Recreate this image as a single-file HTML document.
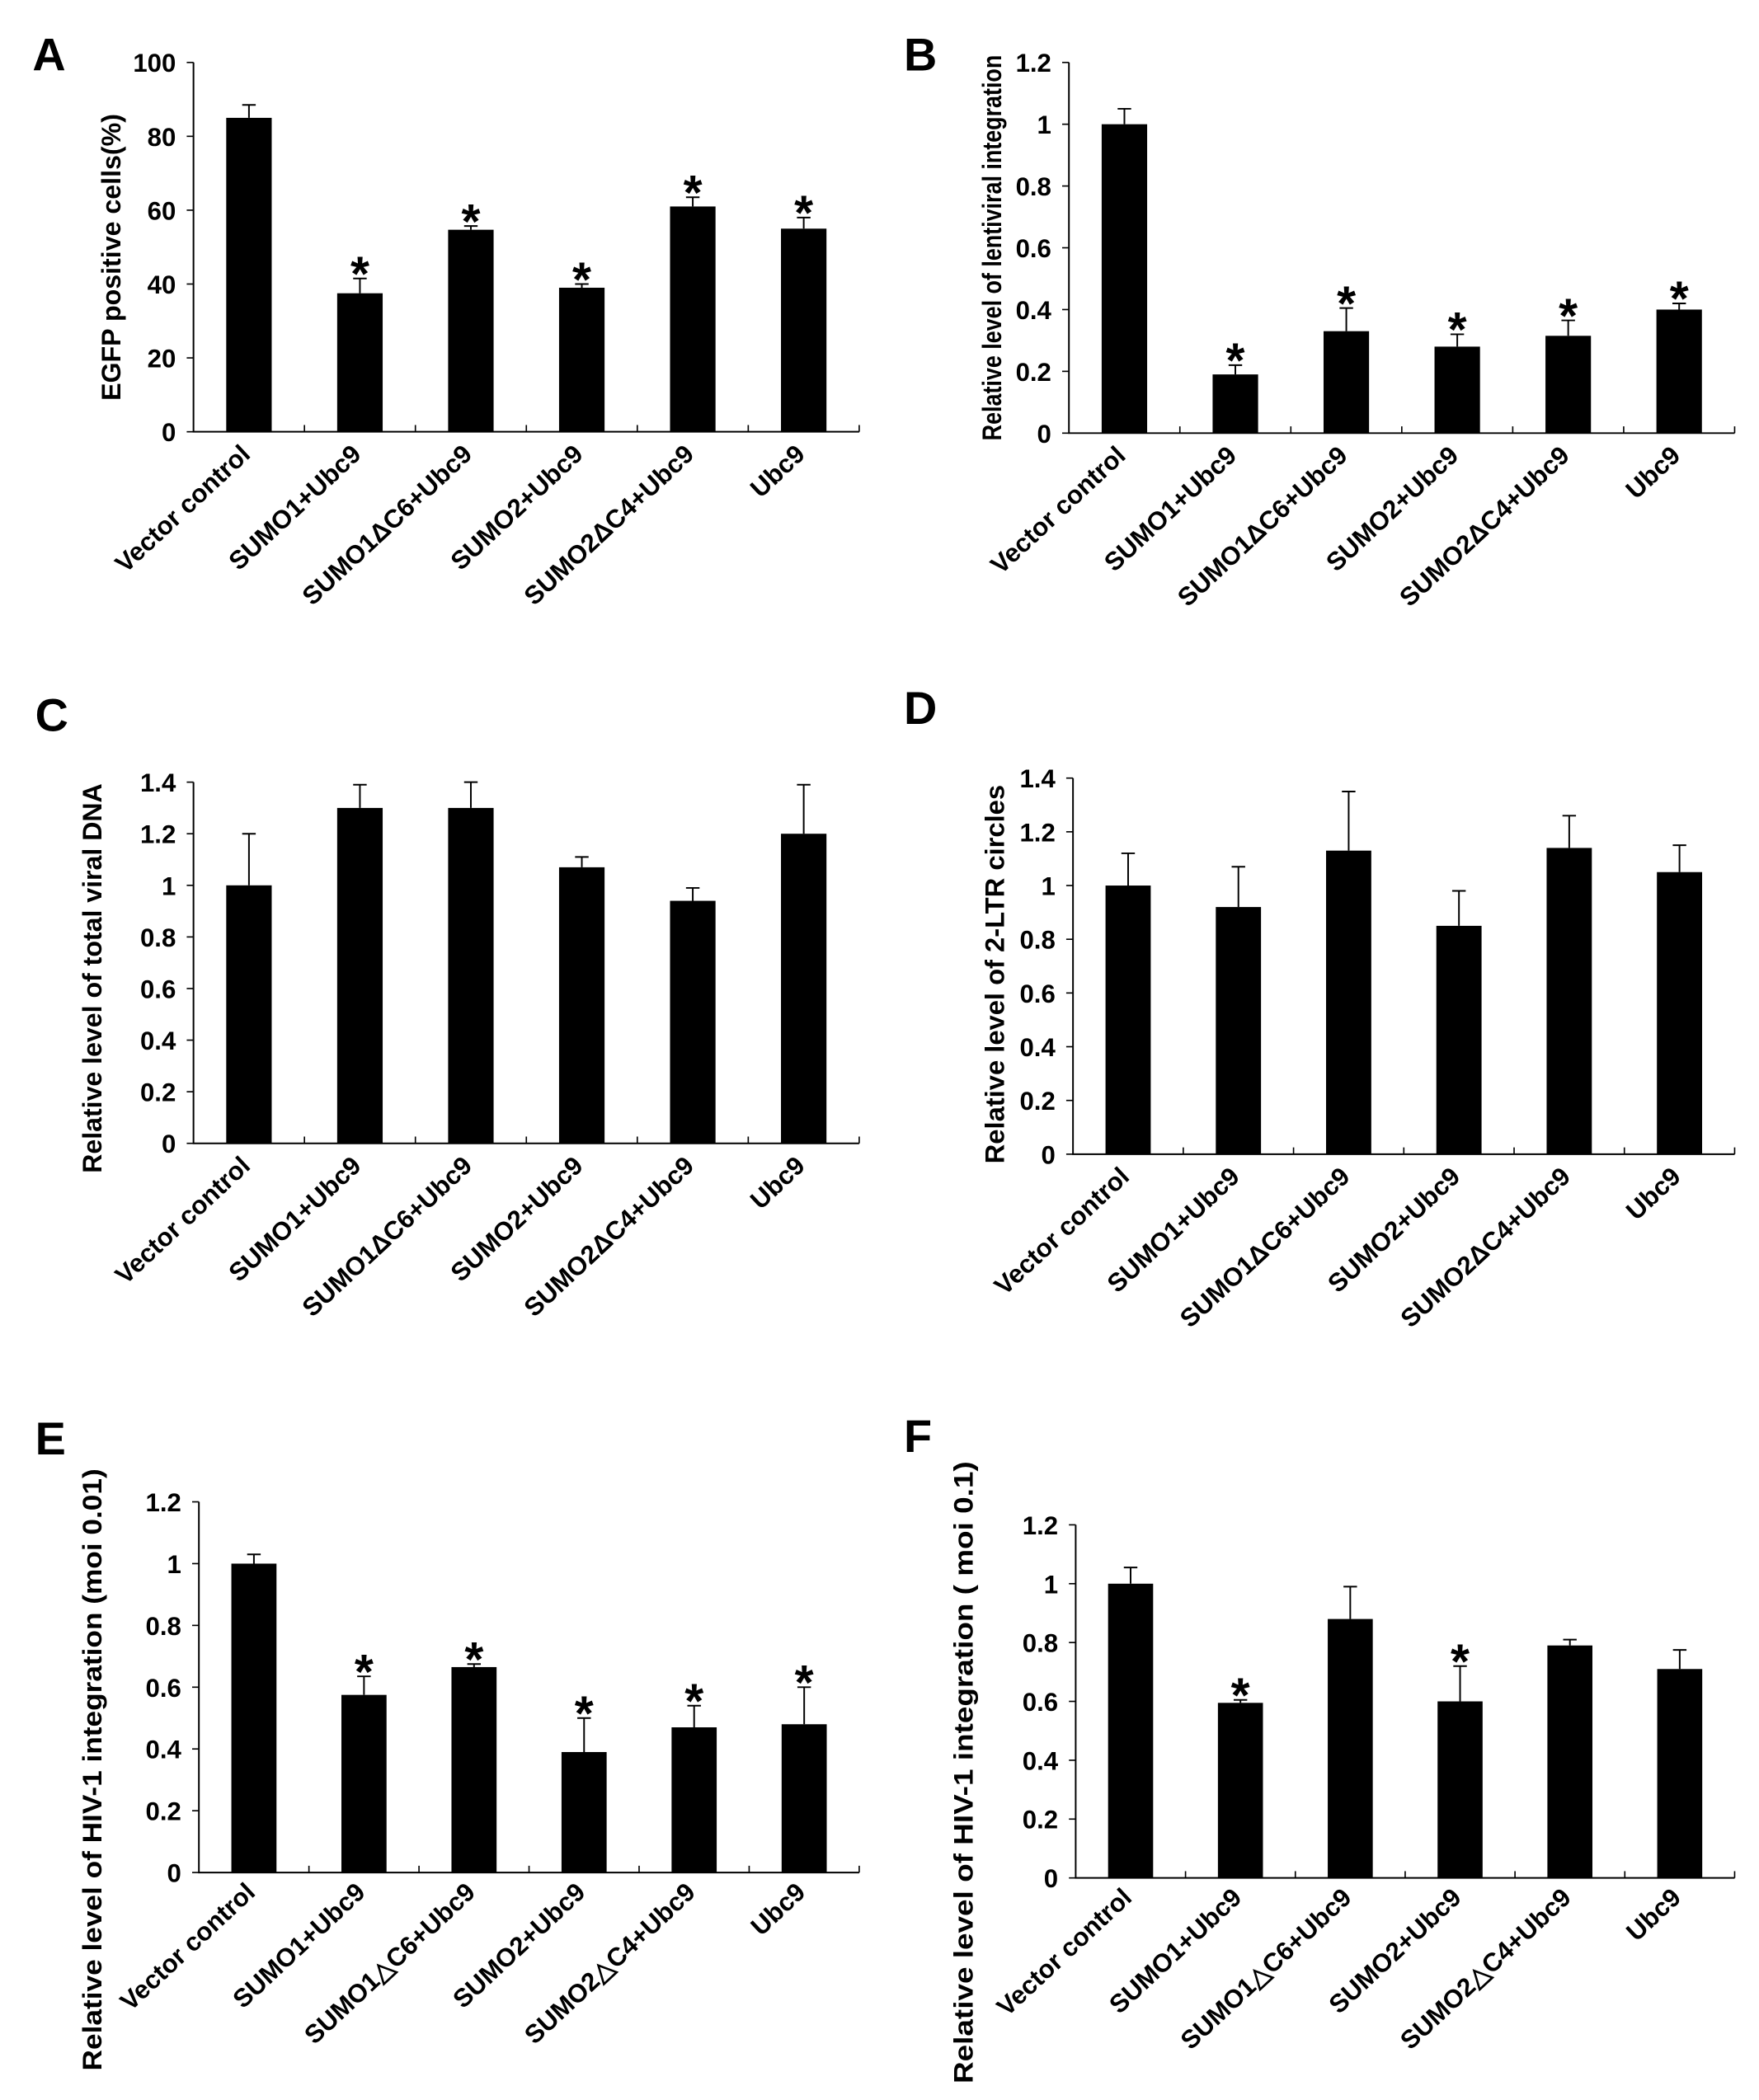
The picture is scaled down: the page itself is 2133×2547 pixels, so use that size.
<!DOCTYPE html>
<html><head><meta charset="utf-8"><style>
html,body{margin:0;padding:0;background:#fff;}
svg{display:block;}
text{font-family:"Liberation Sans",Arial,sans-serif;font-weight:bold;fill:#000;}
</style></head><body>
<svg id="fig" width="2133" height="2547" viewBox="0 0 1300 1552" xmlns="http://www.w3.org/2000/svg"></svg>
<script>
const categories = ["Vector control","SUMO1+Ubc9","SUMO1ΔC6+Ubc9","SUMO2+Ubc9","SUMO2ΔC4+Ubc9","Ubc9"];
const categoriesEF = ["Vector control","SUMO1+Ubc9","SUMO1△C6+Ubc9","SUMO2+Ubc9","SUMO2△C4+Ubc9","Ubc9"];
const valuesA = [85,37.5,54.7,39,61,55];
const errA = [3.5,4,1,1,2.5,3];
const starsA = [0,1,1,1,1,1];
const ticksA = [0,20,40,60,80,100];
const valuesB = [1,0.19,0.33,0.28,0.315,0.40];
const errB = [0.05,0.03,0.075,0.04,0.05,0.02];
const starsB = [0,1,1,1,1,1];
const ticksB = [0,0.2,0.4,0.6,0.8,1,1.2];
const valuesC = [1,1.3,1.3,1.07,0.94,1.2];
const errC = [0.2,0.09,0.1,0.04,0.05,0.19];
const starsC = [0,0,0,0,0,0];
const ticksC = [0,0.2,0.4,0.6,0.8,1,1.2,1.4];
const valuesD = [1,0.92,1.13,0.85,1.14,1.05];
const errD = [0.12,0.15,0.22,0.13,0.12,0.1];
const starsD = [0,0,0,0,0,0];
const ticksD = [0,0.2,0.4,0.6,0.8,1,1.2,1.4];
const valuesE = [1,0.575,0.665,0.39,0.47,0.48];
const errE = [0.03,0.06,0.01,0.11,0.07,0.12];
const starsE = [0,1,1,1,1,1];
const ticksE = [0,0.2,0.4,0.6,0.8,1,1.2];
const valuesF = [1,0.595,0.88,0.60,0.79,0.71];
const errF = [0.055,0.01,0.11,0.12,0.02,0.065];
const starsF = [0,1,0,1,0,0];
const ticksF = [0,0.2,0.4,0.6,0.8,1,1.2];

const NS="http://www.w3.org/2000/svg";
const svg=document.getElementById('fig');
function el(tag,attrs,parent){const e=document.createElementNS(NS,tag);for(const k in attrs)e.setAttribute(k,attrs[k]);(parent||svg).appendChild(e);return e;}

function panel(p){
  const g=el('g',{});
  
  
  const lab=el('text',{x:p.lx,y:p.ly,'font-size':34},g);
  lab.textContent=p.letter;
  
  
  const ymax=p.ticks[p.ticks.length-1];
  const yS=v=>p.y0-(v/ymax)*(p.y0-p.yTop);
  const step=(p.xEnd-p.x0)/p.vals.length;
  const xC=i=>p.x0+step*(i+0.5);
  const ax=el('path',{d:`M${p.x0},${p.yTop}V${p.y0}H${p.xEnd}`,stroke:'#000','stroke-width':1.2,fill:'none'},g);
  
  
  for(let i=1;i<=p.vals.length;i++){
    const t=el('line',{x1:p.x0+step*i,x2:p.x0+step*i,y1:p.y0,y2:p.y0-5,stroke:'#000','stroke-width':1},g);
    
    
  }
  p.ticks.forEach(v=>{
    const y=yS(v);
    const t=el('line',{x1:p.x0-5,x2:p.x0,y1:y,y2:y,stroke:'#000','stroke-width':1},g);
    
    
    const tl=el('text',{x:p.x0-13,y:y+7,'font-size':19,'text-anchor':'end'},g);
    tl.textContent=String(v);
    
    
  });
  const bw=step*0.41;
  p.vals.forEach((v,i)=>{
    const cx=xC(i);
    const top=yS(v);
    const b=el('rect',{x:cx-bw/2,y:top,width:bw,height:p.y0-top,fill:'#000'},g);
    
    
    const et=yS(v+p.errs[i]);
    const e=el('path',{d:`M${cx},${top}V${et}M${cx-5},${et}H${cx+5}`,stroke:'#000','stroke-width':1.2,fill:'none'},g);
    
    
    if(p.stars[i]){
      const s=el('text',{x:cx,y:et+9,'font-size':36,'text-anchor':'middle'},g);
      s.textContent='*';
      
      
    }
    const ax0=cx+2, ay0=p.y0+p.lblOff;
    const xl=el('text',{x:ax0,y:ay0,'font-size':19,'text-anchor':'end',transform:`rotate(-43 ${ax0} ${ay0})`},g);
    xl.textContent=p.cats[i];
    
    
  });
  const tt=el('text',{x:p.tx,y:p.ty,'font-size':20,'text-anchor':'middle',textLength:p.tl,lengthAdjust:'spacingAndGlyphs',transform:`rotate(-90 ${p.tx} ${p.ty})`},g);
  tt.textContent=p.title;
  
  
}

panel({letter:'A',lx:24,ly:52,x0:143,xEnd:635,yTop:46,y0:319,ticks:ticksA,vals:valuesA,errs:errA,stars:starsA,cats:categories,lblOff:18,tx:89,ty:190,tl:212,title:'EGFP positive cells(%)'});
panel({letter:'B',lx:668,ly:52,x0:790,xEnd:1282,yTop:46,y0:320,ticks:ticksB,vals:valuesB,errs:errB,stars:starsB,cats:categories,lblOff:18,tx:740,ty:183,tl:285,title:'Relative level of lentiviral integration'});
panel({letter:'C',lx:26,ly:540,x0:143,xEnd:635,yTop:578,y0:845,ticks:ticksC,vals:valuesC,errs:errC,stars:starsC,cats:categories,lblOff:18,tx:75,ty:723,tl:288,title:'Relative level of total viral DNA'});
panel({letter:'D',lx:668,ly:535,x0:793,xEnd:1282,yTop:575,y0:853,ticks:ticksD,vals:valuesD,errs:errD,stars:starsD,cats:categories,lblOff:18,tx:742,ty:720,tl:280,title:'Relative level of 2-LTR circles'});
panel({letter:'E',lx:26,ly:1075,x0:147,xEnd:635,yTop:1110,y0:1384,ticks:ticksE,vals:valuesE,errs:errE,stars:starsE,cats:categoriesEF,lblOff:16,tx:75,ty:1308,tl:445,title:'Relative level of HIV-1 integration (moi 0.01)'});
panel({letter:'F',lx:668,ly:1073,x0:795,xEnd:1282,yTop:1127,y0:1388,ticks:ticksF,vals:valuesF,errs:errF,stars:starsF,cats:categoriesEF,lblOff:16,tx:719,ty:1310,tl:460,title:'Relative level of HIV-1 integration ( moi 0.1)'});
</script>
</body></html>
